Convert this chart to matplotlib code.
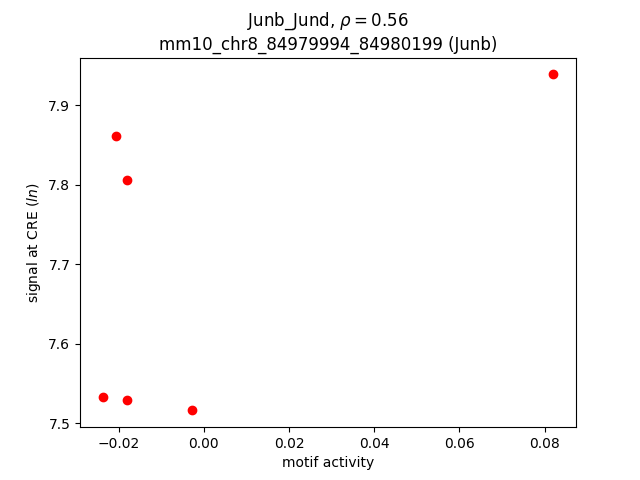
import matplotlib
matplotlib.use("Agg")
import matplotlib.pyplot as plt

motif_activity = [0.0821, -0.0207, -0.0181, -0.0238, -0.0181, -0.0028]
signal = [7.939, 7.861, 7.806, 7.533, 7.529, 7.516]

fig, ax = plt.subplots(figsize=(6.4, 4.8), dpi=100)
ax.scatter(motif_activity, signal, c="red")
ax.set_xlabel("motif activity")
ax.set_ylabel("signal at CRE ($ln$)")
ax.set_title("Junb_Jund, $\\rho = 0.56$\nmm10_chr8_84979994_84980199 (Junb)")
fig.savefig("out.png")
